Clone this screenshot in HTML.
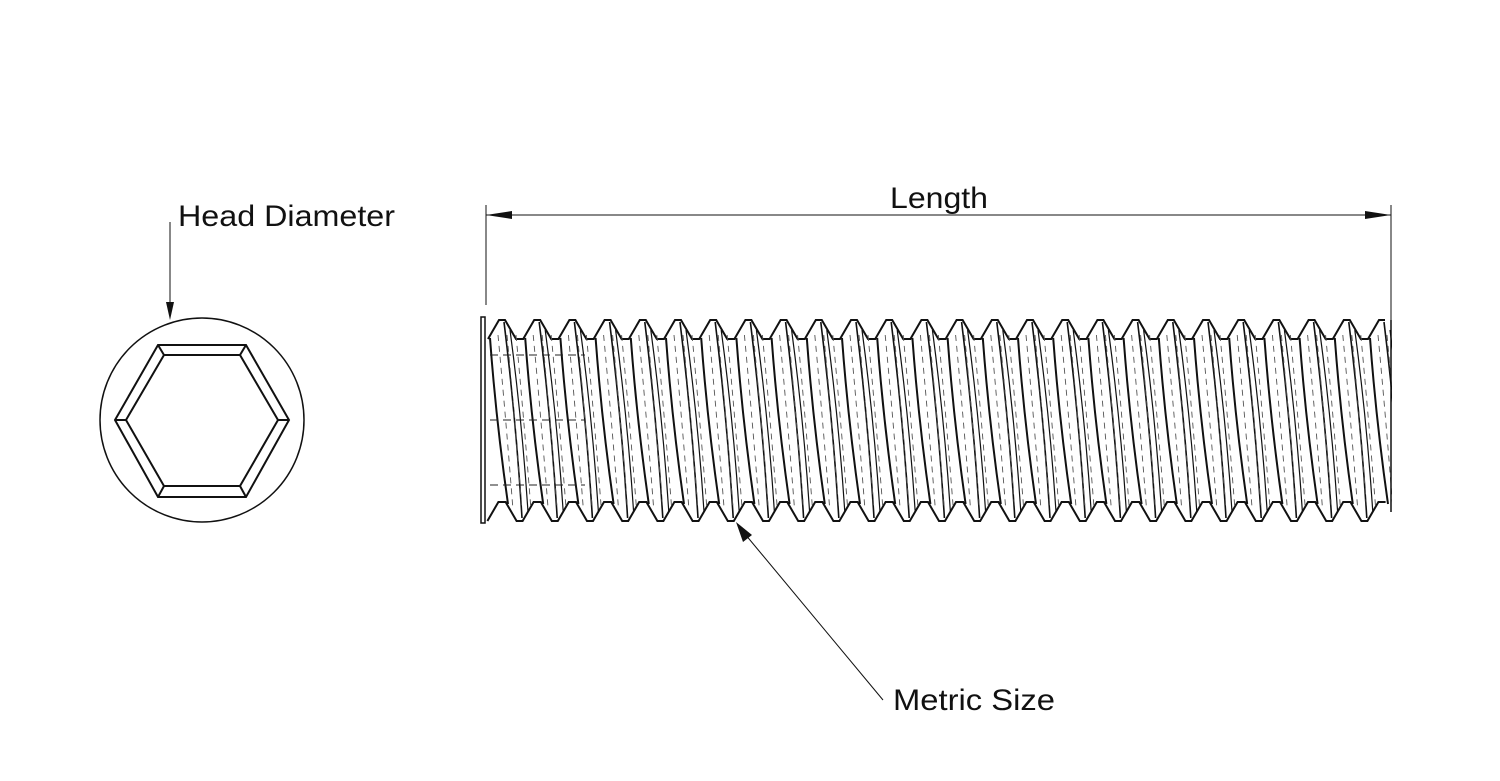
<!DOCTYPE html>
<html><head><meta charset="utf-8"><style>
html,body{margin:0;padding:0;background:#fff;}
svg{display:block;}
text{font-family:"Liberation Sans",sans-serif;font-size:30px;fill:#111;}
</style></head><body>
<svg id="s" width="1500" height="781" viewBox="0 0 1500 781" xmlns="http://www.w3.org/2000/svg">
<rect width="1500" height="781" fill="#fff"/>
<circle cx="202" cy="420" r="102" fill="none" stroke="#111" stroke-width="1.5"/>
<polygon points="158,345 246,345 289,420 246,497 158,497 115,420" fill="none" stroke="#111" stroke-width="2"/>
<polygon points="164,355 240,355 278,420 240,486 164,486 126,420" fill="none" stroke="#111" stroke-width="2"/>
<line x1="158" y1="345" x2="164" y2="355" stroke="#111" stroke-width="2"/>
<line x1="246" y1="345" x2="240" y2="355" stroke="#111" stroke-width="2"/>
<line x1="289" y1="420" x2="278" y2="420" stroke="#111" stroke-width="2"/>
<line x1="246" y1="497" x2="240" y2="486" stroke="#111" stroke-width="2"/>
<line x1="158" y1="497" x2="164" y2="486" stroke="#111" stroke-width="2"/>
<line x1="115" y1="420" x2="126" y2="420" stroke="#111" stroke-width="2"/>
<line x1="170" y1="222" x2="170" y2="306" stroke="#111" stroke-width="1"/>
<polygon points="166,302 174,302 170,320" fill="#111"/>
<text x="178" y="226" textLength="217" lengthAdjust="spacingAndGlyphs">Head Diameter</text>
<line x1="486" y1="205" x2="486" y2="305" stroke="#111" stroke-width="1"/>
<line x1="1391" y1="205" x2="1391" y2="512" stroke="#111" stroke-width="1"/>
<line x1="486" y1="215" x2="1391" y2="215" stroke="#111" stroke-width="1"/>
<polygon points="486,215 512,211 512,219" fill="#111"/>
<polygon points="1391,215 1365,211 1365,219" fill="#111"/>
<text x="890" y="208" textLength="98" lengthAdjust="spacingAndGlyphs">Length</text>
<line x1="740" y1="528" x2="883" y2="700" stroke="#111" stroke-width="1"/>
<polygon points="736,522 752,535 743,542" fill="#111"/>
<text x="893" y="710" textLength="162" lengthAdjust="spacingAndGlyphs">Metric Size</text>
<rect x="481" y="317" width="4" height="206" fill="none" stroke="#111" stroke-width="1.5"/>
<g id="th"></g>
</svg>
<script>
(function(){
var g=document.getElementById('th'),h='',p=35.2,x0=502,n=26,R=1391;
var tp=[],bt=[];
for(var k=-1;k<=n;k++){var c=x0+k*p;
 tp.push([c-14,339],[c-3,320],[c+3,320],[c+14,339]);
 var b=c+p/2; bt.push([b-14,502],[b-3,521],[b+3,521],[b+14,502]);}
function clip(arr){var o=[];for(var i=0;i<arr.length;i++){var q=arr[i];if(q[0]>=486&&q[0]<=R)o.push(q);}return o;}
function poly(arr){h+='<polyline points="'+arr.map(function(q){return q[0].toFixed(1)+','+q[1];}).join(' ')+'" fill="none" stroke="#111" stroke-width="2"/>';}
poly(clip(tp));poly(clip(bt));
for(var k=0;k<n;k++){var c=x0+k*p;
 h+='<path d="M'+(c-12)+',338 Q'+(c-6)+',420 '+(c+6)+',504" fill="none" stroke="#111" stroke-width="2"/>';
 h+='<path d="M'+(c+2)+',322 Q'+(c+14)+',420 '+(c+20)+',518" fill="none" stroke="#111" stroke-width="1.6"/>';
 h+='<path d="M'+(c+8)+',330 Q'+(c+20)+',420 '+(c+26)+',512" fill="none" stroke="#111" stroke-width="1.2"/>';
 for(var j=0;j<3;j++){var dx=-4+j*9;
  h+='<path d="M'+(c+dx)+',335 Q'+(c+dx+8)+',420 '+(c+dx+15)+',510" fill="none" stroke="#555" stroke-width="0.9" stroke-dasharray="6,5"/>';}
}
h+='<line x1="490" y1="355" x2="585" y2="355" stroke="#222" stroke-width="1" stroke-dasharray="8,5"/>';
h+='<line x1="490" y1="420" x2="585" y2="420" stroke="#222" stroke-width="1" stroke-dasharray="8,5"/>';
h+='<line x1="490" y1="485" x2="585" y2="485" stroke="#222" stroke-width="1" stroke-dasharray="8,5"/>';
h+='<rect x="1392" y="300" width="40" height="230" fill="#fff"/>';
h+='<line x1="1391" y1="320" x2="1391" y2="512" stroke="#111" stroke-width="1.5"/>';
g.innerHTML=h;
})();
</script>
</body></html>
